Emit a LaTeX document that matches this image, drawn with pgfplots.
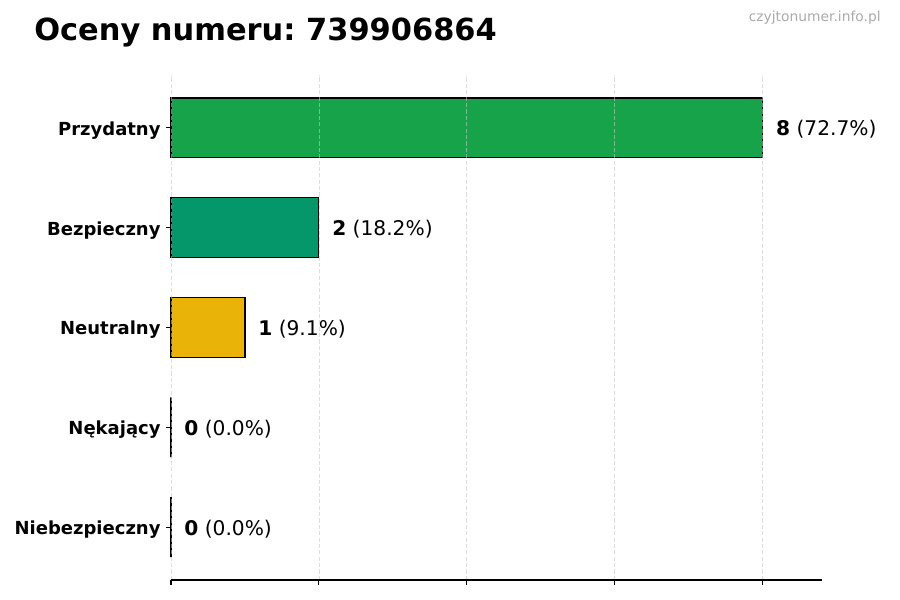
\documentclass[border=0pt]{standalone}
\usepackage{pgfplots}
\pgfplotsset{compat=1.18}
\usepackage{fontspec}
\setmainfont{DejaVu Sans}
\frenchspacing

\definecolor{cPrzyd}{HTML}{16A34A}
\definecolor{cBezp}{HTML}{059669}
\definecolor{cNeut}{HTML}{EAB308}
\definecolor{cNek}{HTML}{DC2626}
\definecolor{cNieb}{HTML}{991B1B}
\definecolor{cWm}{HTML}{AAAAAA}

\tikzset{vlab/.style={anchor=west, font=\fontsize{14.6}{17}\selectfont, inner sep=0pt, xshift=9.4bp, yshift=-1.2bp}}

\begin{document}
\begin{tikzpicture}
  \useasboundingbox (-123.1bp,-14.4bp) rectangle (524.9bp,417.6bp);
  \begin{axis}[
    at={(0,0)}, anchor=south west,
    scale only axis,
    width=468.7bp, height=363.6bp,
    xmin=0, xmax=8.8,
    ymin=-0.53, ymax=4.53,
    xbar, bar shift=0pt, bar width=0.6,
    axis x line*=bottom, axis y line*=left,
    y axis line style={draw=none},
    x axis line style={black, line width=0.8bp, -},
    tick align=outside,
    major tick length=3.5bp,
    tick style={black, line width=0.8bp},
    xtick={0,2,4,6,8}, xticklabels={},
    ytick={0,1,2,3,4},
    yticklabels={Niebezpieczny,Nękający,Neutralny,Bezpieczny,Przydatny},
    yticklabel style={font=\fontsize{13}{15}\selectfont\bfseries, xshift=-0.5bp, yshift=-1.8bp},
    xmajorgrids,
    major grid style={gray!45, opacity=0.6, line width=0.6bp, dash pattern=on 3bp off 1.6bp},
    axis on top,
    every axis plot/.append style={draw=black, line width=0.8bp},
    clip=false,
  ]
  \addplot[fill=cNieb] coordinates {(0,0)};
  \addplot[fill=cNek] coordinates {(0,1)};
  \addplot[fill=cNeut] coordinates {(1,2)};
  \addplot[fill=cBezp] coordinates {(2,3)};
  \addplot[fill=cPrzyd] coordinates {(8,4)};

  \node[vlab] at (axis cs:8,4) {\textbf{8} (72.7\%)};
  \node[vlab] at (axis cs:2,3) {\textbf{2} (18.2\%)};
  \node[vlab] at (axis cs:1,2) {\textbf{1} (9.1\%)};
  \node[vlab] at (axis cs:0,1) {\textbf{0} (0.0\%)};
  \node[vlab] at (axis cs:0,0) {\textbf{0} (0.0\%)};
  \end{axis}
  \node[anchor=base west, inner sep=0pt, font=\fontsize{22}{26}\selectfont\bfseries] at (-98.6bp,388.5bp) {Oceny numeru: 739906864};
  \node[anchor=base east, inner sep=0pt, font=\fontsize{10}{12}\selectfont, text=cWm] at (511.2bp,402bp) {czyjtonumer.info.pl};
\end{tikzpicture}
\end{document}
